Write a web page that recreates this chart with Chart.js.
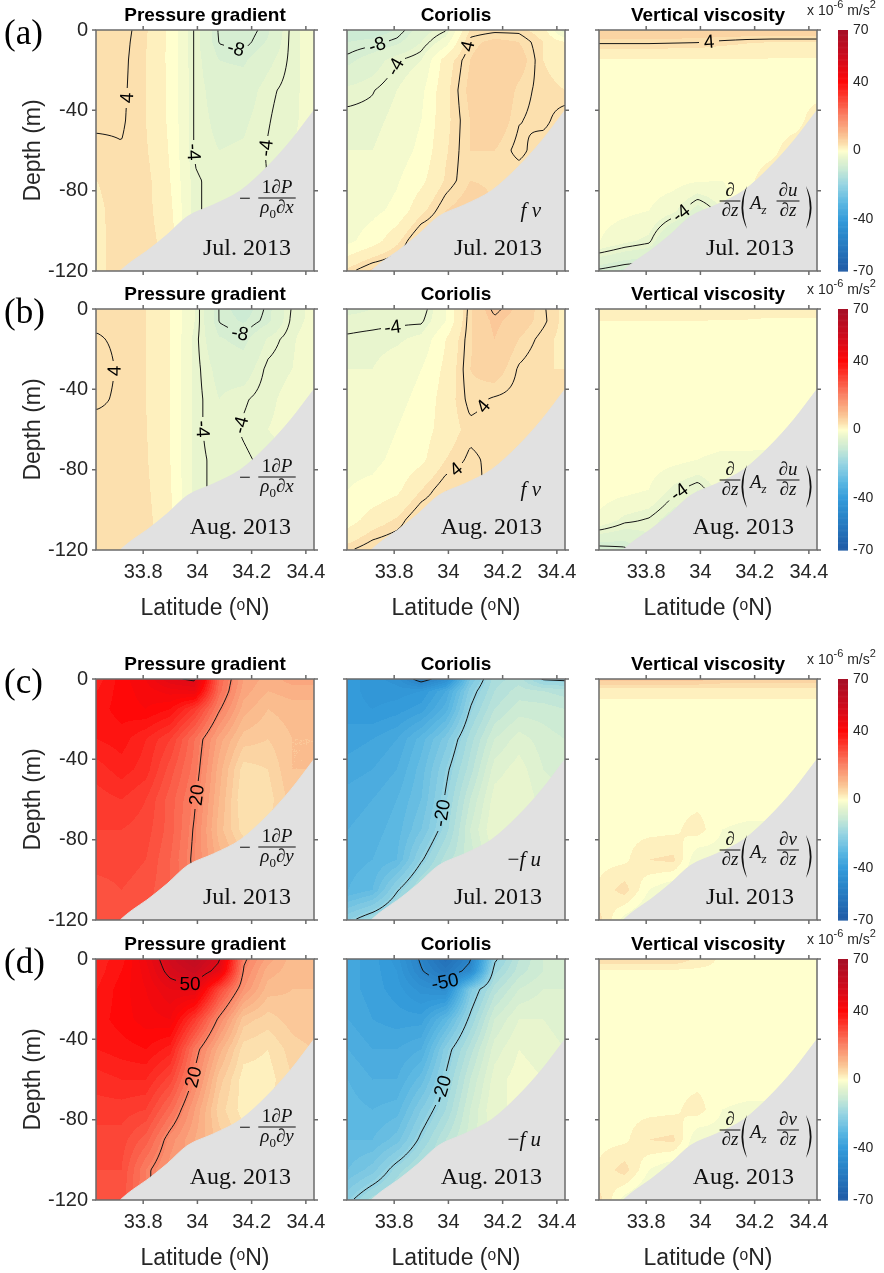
<!DOCTYPE html>
<html>
<head>
<meta charset="utf-8">
<script src="https://cdn.jsdelivr.net/npm/chart.js@4.4.1/dist/chart.umd.min.js"></script>
<style>
  html, body { margin: 0; padding: 0; background: #fff; overflow: hidden; }
  #fig { position: relative; width: 884px; height: 1273px; overflow: hidden; }
  #fig canvas { position: absolute; }
</style>
</head>
<body>
<div id="fig"></div>
<script>
// ===== grid of the sections =====
const latGrid = [33.63, 33.72, 33.81, 33.90, 33.99, 34.08, 34.17, 34.26, 34.35, 34.43];
const depthGrid = [0, -6, -15, -30, -45, -60, -75, -90, -105, -120];
const latTicks = [33.8, 34, 34.2, 34.4];
const depthTicks = [0, -40, -80, -120];
const barTicks = [-70, -40, 0, 40, 70];

// bottom topography
const bathyLat = [33.626, 33.68, 33.715, 33.76, 33.814, 33.888, 33.962, 34.06, 34.159, 34.258, 34.345, 34.43];
const bathyDepth = [-131, -125, -120, -115, -110, -102, -93, -87, -80, -68, -55, -40];

// contour line levels
const levelsSmall = [-8, -4, 4, 8];
const levelsLarge = [-50, -20, 20, 50];

// colour scale (x 10^-6 m/s^2)
const cmapVals = [-70, -55, -40, -30, -20, -10, -4, 0, 4, 10, 20, 30, 40, 55, 70];
const cmapCols = [
  [33, 90, 165], [38, 122, 192], [52, 155, 218], [92, 184, 226], [148, 211, 226],
  [205, 235, 212], [232, 245, 206], [255, 255, 206], [252, 224, 174], [250, 188, 142],
  [250, 132, 102], [252, 70, 55], [255, 8, 8], [205, 12, 30], [165, 15, 38]
];

// ===== momentum terms, rows = depthGrid, cols = latGrid =====
// (a) x-direction, Jul. 2013
const pgxJul = [
  [4.5, 4.6, 3.2, 0.5, -4.2, -8.2, -9, -7.3, -3.5, -2],
  [4.5, 4.5, 3.1, 0.5, -4.2, -8.1, -8.6, -6.8, -3.5, -2],
  [4.4, 4.4, 3.0, 0.5, -4.2, -7, -7.3, -5.5, -3.6, -2],
  [4.5, 4.3, 3.0, 0.6, -4.2, -6, -6, -4.3, -3.5, -2],
  [4.3, 4.2, 3.0, 0.6, -4.2, -5.5, -5.3, -4.1, -3.2, -2.5],
  [3.6, 3.9, 3.2, 0.8, -4.2, -5, -4.8, -3.9, -3, -2.5],
  [3.0, 3.8, 3.6, 1.0, -3.8, -4.5, -4.5, -4, -3, -2.5],
  [2.6, 3.8, 3.6, 1.5, -3.8, -4.5, -4.5, -4, -3, -2.5],
  [2.5, 3.9, 3.8, 2.0, -3.5, -4.5, -4.5, -4, -3, -2.5],
  [2.5, 3.9, 3.8, 2.2, -3.0, -4.5, -4.5, -4, -3, -2.5]
];
const corxJul = [
  [-10, -10, -9, -6, -4.2, 3.2, 3.6, 3.6, 2, -4.5],
  [-9, -8.6, -7.5, -5, -2, 4.5, 5.5, 5, 3, 1],
  [-7.5, -6, -4.1, -3, 2, 5, 6.5, 6, 3, 2],
  [-4.6, -4.1, -3, -1.5, 2.5, 5.5, 7, 4.6, 3.5, 3],
  [-3.5, -3.5, -2.5, -1, 2.5, 5, 6.5, 4.1, 3.5, 5],
  [-3, -3, -2, -0.5, 2.8, 5, 5, 3.5, 5, 5],
  [-2.5, -2.2, -1.2, 0.5, 3.2, 5, 4.8, 5, 5, 5],
  [-2, -1.5, -0.5, 2.5, 5, 6, 5, 5, 5, 5],
  [-1.5, 0, 2.5, 6, 6, 6, 5, 5, 5, 5],
  [3.5, 5.5, 6, 6, 6, 6, 5, 5, 5, 5]
];
const viscxJul = [
  [7, 7, 7, 7, 7, 7, 7, 7, 7, 7],
  [4.3, 4.3, 4.3, 4.2, 4.1, 3.6, 3.2, 3, 3, 3],
  [0.8, 0.8, 0.8, 0.8, 0.8, 0.8, 0.8, 0.8, 0.8, 0.8],
  [0.3, 0.3, 0.3, 0.3, 0.3, 0.3, 0.3, 0.3, 0.3, 0.3],
  [0.3, 0.3, 0.3, 0.3, 0.3, 0.3, 0.3, 0.3, 0.3, 2],
  [0.3, 0.3, 0.2, 0.2, 0.2, 0.2, 0.3, 0.5, 2, 2],
  [0.2, 0.2, 0, -0.2, -0.8, -1, 0.5, 2, 2, 2],
  [-0.2, -0.5, -1, -2.5, -6, -3, 2, 2, 2, 2],
  [-1, -2.5, -3.5, -9, -9, -3, 2, 2, 2, 2],
  [-8.5, -9.5, -10, -10, -9, -3, 2, 2, 2, 2]
];
// (b) x-direction, Aug. 2013
const pgxAug = [
  [3.5, 3.8, 3, 1, -3, -8.1, -10, -7.6, -3.8, -2.5],
  [3.8, 3.8, 3, 1, -3, -8.1, -9.2, -7.4, -3.6, -2.5],
  [4.1, 3.8, 3, 1, -3.5, -6.8, -7.6, -4.8, -3.2, -2],
  [4.5, 3.8, 3, 1, -3.5, -5.6, -6, -3.6, -3, -2],
  [4.2, 3.8, 3, 1, -3.5, -5, -4.2, -3.3, -2.5, -2],
  [3.6, 3.8, 3.1, 1, -3.5, -5, -3.8, -3, -2.5, -2],
  [3.5, 3.9, 3.2, 1, -3.5, -4.5, -4.3, -3.5, -3, -2],
  [3.2, 3.9, 3.4, 1.2, -3.5, -4.5, -4.5, -4, -3, -2],
  [3.1, 3.9, 3.6, 1.5, -3.5, -4.5, -4.5, -4, -3, -2],
  [3, 3.9, 3.7, 2, -3, -4.5, -4.5, -4, -3, -2]
];
const corxAug = [
  [-5.5, -5, -4.8, -5, -1, 4.6, 8.6, 6.5, 4.2, 2.5],
  [-4.5, -4.4, -4.3, -4.3, -1, 4.8, 7.5, 6, 4.3, 2.5],
  [-3.8, -3.6, -3.3, -2.5, 1, 4.8, 7, 5, 3.5, 2.5],
  [-3, -3, -2, -1, 1.5, 5, 6, 3.8, 3, 3],
  [-2.5, -2.5, -1.5, -0.5, 2, 4.5, 3.8, 3.5, 3.5, 3.5],
  [-2, -2, -1, 0, 2, 3.6, 3.5, 3.2, 3.2, 3.2],
  [-1.5, -1.5, -0.5, 0.5, 3, 4.3, 3.6, 3, 3, 3],
  [-1, -0.5, 0.5, 3, 5, 5, 3, 3, 3, 3],
  [0, 2, 3.2, 5.5, 5.5, 5, 3, 3, 3, 3],
  [3.8, 5, 5.5, 5.5, 5.5, 5, 3, 3, 3, 3]
];
const viscxAug = [
  [3, 3, 3, 3, 3, 2.5, 2.5, 2, 2, 2],
  [1, 1, 1, 1, 1, 0.8, 0.8, 0.6, 0.6, 0.6],
  [0.3, 0.3, 0.3, 0.3, 0.3, 0.3, 0.3, 0.3, 0.3, 0.3],
  [0.3, 0.3, 0.3, 0.3, 0.3, 0.3, 0.3, 0.3, 0.3, 0.3],
  [0.3, 0.3, 0.3, 0.3, 0.3, 0.3, 0.3, 0.3, 0.3, 0.3],
  [0.3, 0.3, 0.2, 0.2, 0.2, 0.2, 0.2, 0, -1, -1.5],
  [0.2, 0.2, 0, -0.3, -1, -1.5, -1.5, -1.5, -1.5, -1.5],
  [0, -0.3, -1, -3.5, -5, -2, -1.5, -1.5, -1.5, -1.5],
  [-1.5, -3.5, -4.2, -6, -6, -2, -1.5, -1.5, -1.5, -1.5],
  [-9, -8.5, -6, -6, -6, -2, -1.5, -1.5, -1.5, -1.5]
];
// (c) y-direction, Jul. 2013
const pgyJul = [
  [36, 40, 43, 49, 51, 25, 15, 12, 14, 14],
  [37, 40, 42, 44, 45, 24, 14, 11, 12, 12],
  [38, 40, 41, 39, 32, 20.5, 12, 9, 10, 10],
  [37, 38, 35, 31, 23, 14, 8, 7, 9, 9],
  [34, 36, 34, 28, 22, 12, 4, 5, 9, 9],
  [32, 33, 31, 26, 20.5, 11, 3, 4, 8, 8],
  [31, 31, 30, 26, 19.5, 10, 4, 5, 8, 8],
  [30, 30, 29, 25, 19, 12, 8, 8, 8, 8],
  [28, 29, 28, 25, 20, 14, 10, 10, 10, 10],
  [27, 28, 27, 25, 20, 14, 10, 10, 10, 10]
];
const coryJul = [
  [-40, -42, -44, -53, -46, -25, -16, -14, -20.5, -21],
  [-40, -42, -42, -41, -35, -22, -15, -12, -13, -14],
  [-40, -41, -40, -38, -32, -19.8, -13, -10, -10, -11],
  [-38, -37, -35, -30, -24, -16, -9, -6, -8, -9],
  [-36, -35, -33, -28, -21, -14, -6, -4, -7, -8],
  [-34, -33, -31, -27, -19.5, -11, -4, -3, -6, -6],
  [-33, -32, -30, -25, -18, -9, -3, -3, -5, -5],
  [-32, -31, -29, -20.5, -14, -10, -5, -5, -5, -5],
  [-31, -29, -20.5, -14, -12, -10, -5, -5, -5, -5],
  [-21, -17, -14, -12, -12, -10, -5, -5, -5, -5]
];
const viscyJul = [
  [8, 8, 8, 8, 8, 7, 7, 7, 7, 7],
  [1.5, 1.5, 1.5, 1.5, 1.5, 1.5, 1.5, 1.5, 1.5, 1.5],
  [0.3, 0.3, 0.3, 0.3, 0.3, 0.3, 0.3, 0.3, 0.3, 0.3],
  [0.3, 0.3, 0.3, 0.3, 0.3, 0.3, 0.3, 0.3, 0.3, 0.3],
  [0.3, 0.3, 0.3, 0.3, 0.3, 0.3, 0.3, 0.3, 0.3, 0.3],
  [0.3, 0.3, 0.3, 0.3, 0.3, 0.3, 0.3, 0.3, -1.5, -1.5],
  [0.3, 0.3, 0.3, 0.5, 2, -1, -1.5, -1.5, -1.5, -1.5],
  [0.3, 0.5, 3, 3.5, -3, -2, -1.5, -1.5, -1.5, -1.5],
  [1.5, 4, -1, -3, -3, -2, -1.5, -1.5, -1.5, -1.5],
  [3.5, -2, -4, -3, -3, -2, -1.5, -1.5, -1.5, -1.5]
];
// (d) y-direction, Aug. 2013
const pgyAug = [
  [36, 38, 45, 54, 60, 51, 21, 14, 10, 11],
  [36, 39, 44, 52, 56, 47, 19.5, 12, 10, 10],
  [37, 40, 43, 47, 48, 30, 17, 10, 9, 9],
  [38, 40, 42, 43, 32, 19, 8, 6, 8, 9],
  [37, 38, 39, 36, 22, 12, 4, 3, 6, 7],
  [34, 35, 35, 30, 19, 8, 2, 2, 5, 6],
  [32, 32, 31, 24, 15, 6, 2, 3, 5, 6],
  [30, 30, 26, 18, 13, 8, 4, 4, 5, 6],
  [29, 29, 21, 16, 14, 10, 6, 6, 6, 6],
  [28, 28, 21, 16, 14, 10, 6, 6, 6, 6]
];
const coryAug = [
  [-36, -38, -42, -51, -60, -51, -21, -13, -9, -8],
  [-36, -38, -41, -49.5, -56, -47, -18, -12, -9, -8],
  [-36, -38, -40, -44, -46, -24, -14, -9, -7, -7],
  [-35, -37, -38, -38, -30, -19, -9, -5, -5, -6],
  [-33, -35, -35, -33, -22, -14, -6, -3, -4, -5],
  [-31, -33, -33, -28, -19.5, -11, -4, -2, -3, -4],
  [-30, -31, -30, -23, -17, -9, -3, -3, -3, -4],
  [-29, -29, -26, -19, -13, -8, -4, -4, -4, -4],
  [-27, -24, -18, -14, -12, -8, -4, -4, -4, -4],
  [-21, -16, -14, -12, -12, -8, -4, -4, -4, -4]
];
const viscyAug = [
  [5, 5, 5, 5, 2.5, 0.5, 0.5, 0.5, 0.5, 0.5],
  [0.5, 0.5, 0.5, 0.5, 0.5, 0.5, 0.5, 0.5, 0.5, 0.5],
  [0.3, 0.3, 0.3, 0.3, 0.3, 0.3, 0.3, 0.3, 0.3, 0.3],
  [0.3, 0.3, 0.3, 0.3, 0.3, 0.3, 0.3, 0.3, 0.3, 0.3],
  [0.3, 0.3, 0.3, 0.3, 0.3, 0.3, 0.3, 0.3, 0.3, 0.3],
  [0.3, 0.3, 0.3, 0.3, 0.3, 0.3, 0.3, 0.3, -1.5, -1.5],
  [0.3, 0.3, 0.3, 0.5, 2, -1, -1.5, -1.5, -1.5, -1.5],
  [0.3, 0.5, 3, 3.5, -3, -2, -1.5, -1.5, -1.5, -1.5],
  [1.5, 4, -1, -3, -3, -2, -1.5, -1.5, -1.5, -1.5],
  [3.5, -2, -4, -3, -3, -2, -1.5, -1.5, -1.5, -1.5]
];

// ===== layout =====
const LAT_MIN = 33.626, LAT_MAX = 34.43;
const PLOT_W = 218, PLOT_H = 241, TITLE_SPACE = 30;
const BAND = 2;
const colLefts = [96, 347, 599];
const rowTops = [30, 309, 679, 959];
const colTitles = ["Pressure gradient", "Coriolis", "Vertical viscosity"];
const rows = [
  { tag: "(a)", month: "Jul. 2013", comp: "u", fields: [pgxJul, corxJul, viscxJul], levels: levelsSmall, xLabels: false },
  { tag: "(b)", month: "Aug. 2013", comp: "u", fields: [pgxAug, corxAug, viscxAug], levels: levelsSmall, xLabels: true },
  { tag: "(c)", month: "Jul. 2013", comp: "v", fields: [pgyJul, coryJul, viscyJul], levels: levelsLarge, xLabels: false },
  { tag: "(d)", month: "Aug. 2013", comp: "v", fields: [pgyAug, coryAug, viscyAug], levels: levelsLarge, xLabels: true }
];

const SANS = '"Liberation Sans", Arial, sans-serif';
const SERIF = '"Liberation Serif", "Times New Roman", serif';
Chart.defaults.font.family = SANS;
Chart.defaults.color = "#262626";

// ===== helpers =====
function fieldValue(field, lat, dep) {
  let i = 0;
  while (i < latGrid.length - 2 && lat > latGrid[i + 1]) i++;
  let j = 0;
  while (j < depthGrid.length - 2 && dep < depthGrid[j + 1]) j++;
  let tx = (lat - latGrid[i]) / (latGrid[i + 1] - latGrid[i]);
  let ty = (dep - depthGrid[j]) / (depthGrid[j + 1] - depthGrid[j]);
  tx = Math.min(1, Math.max(0, tx));
  ty = Math.min(1, Math.max(0, ty));
  const a = field[j][i], b = field[j][i + 1], c = field[j + 1][i], d = field[j + 1][i + 1];
  return a * (1 - tx) * (1 - ty) + b * tx * (1 - ty) + c * (1 - tx) * ty + d * tx * ty;
}

function colorAt(v) {
  v = Math.min(70, Math.max(-70, v));
  let k = 0;
  while (k < cmapVals.length - 2 && v > cmapVals[k + 1]) k++;
  const t = (v - cmapVals[k]) / (cmapVals[k + 1] - cmapVals[k]);
  return cmapCols[k].map((c, n) => Math.round(c + (cmapCols[k + 1][n] - c) * t));
}

function bathyAt(lat) {
  if (lat <= bathyLat[0]) return bathyDepth[0];
  for (let k = 1; k < bathyLat.length; k++) {
    if (lat <= bathyLat[k]) {
      const t = (lat - bathyLat[k - 1]) / (bathyLat[k] - bathyLat[k - 1]);
      return bathyDepth[k - 1] + t * (bathyDepth[k] - bathyDepth[k - 1]);
    }
  }
  return bathyDepth[bathyDepth.length - 1];
}

// marching squares: edge pairs per cell case (0 top, 1 right, 2 bottom, 3 left)
const CASES = {
  1: [[3, 2]], 2: [[2, 1]], 3: [[3, 1]], 4: [[0, 1]], 5: [[3, 2], [0, 1]], 6: [[0, 2]], 7: [[3, 0]],
  8: [[3, 0]], 9: [[0, 2]], 10: [[3, 0], [2, 1]], 11: [[0, 1]], 12: [[3, 1]], 13: [[2, 1]], 14: [[3, 2]]
};

function tracePolylines(F, nx, ny, lev, x0, y0, s) {
  const pts = new Map();
  const segs = [];
  const edge = (e, i, j) => {
    let id, ia, ja, ib, jb;
    if (e === 0) { id = (j * nx + i) * 2; ia = i; ja = j; ib = i + 1; jb = j; }
    else if (e === 2) { id = ((j + 1) * nx + i) * 2; ia = i; ja = j + 1; ib = i + 1; jb = j + 1; }
    else if (e === 3) { id = (j * nx + i) * 2 + 1; ia = i; ja = j; ib = i; jb = j + 1; }
    else { id = (j * nx + i + 1) * 2 + 1; ia = i + 1; ja = j; ib = i + 1; jb = j + 1; }
    if (!pts.has(id)) {
      const fa = F[ja * nx + ia], fb = F[jb * nx + ib];
      const t = (lev - fa) / (fb - fa);
      pts.set(id, [x0 + (ia + t * (ib - ia)) * s, y0 + (ja + t * (jb - ja)) * s]);
    }
    return id;
  };
  for (let j = 0; j < ny - 1; j++) {
    for (let i = 0; i < nx - 1; i++) {
      const code = (F[j * nx + i] > lev ? 8 : 0) | (F[j * nx + i + 1] > lev ? 4 : 0) |
        (F[(j + 1) * nx + i + 1] > lev ? 2 : 0) | (F[(j + 1) * nx + i] > lev ? 1 : 0);
      const cs = CASES[code];
      if (!cs) continue;
      for (const [e1, e2] of cs) segs.push([edge(e1, i, j), edge(e2, i, j)]);
    }
  }
  // join segments into polylines
  const adj = new Map();
  segs.forEach((sg, k) => sg.forEach(e => {
    if (!adj.has(e)) adj.set(e, []);
    adj.get(e).push(k);
  }));
  const used = new Array(segs.length).fill(false);
  const out = [];
  const extend = (list) => {
    for (;;) {
      const last = list[list.length - 1];
      const next = (adj.get(last) || []).find(m => !used[m]);
      if (next === undefined) break;
      used[next] = true;
      list.push(segs[next][0] === last ? segs[next][1] : segs[next][0]);
    }
  };
  for (let k = 0; k < segs.length; k++) {
    if (used[k]) continue;
    used[k] = true;
    const ids = [segs[k][0], segs[k][1]];
    extend(ids);
    ids.reverse();
    extend(ids);
    out.push(ids.map(id => pts.get(id)));
  }
  return out;
}

function drawLabelledLine(chart, line, lev) {
  const { ctx, chartArea: a, scales: { x, y } } = chart;
  const cum = [0];
  for (let k = 1; k < line.length; k++) {
    cum.push(cum[k - 1] + Math.hypot(line[k][0] - line[k - 1][0], line[k][1] - line[k - 1][1]));
  }
  const len = cum[cum.length - 1];
  if (len < 3) return;
  const text = String(lev);
  ctx.font = "19px " + SANS;
  const tw = ctx.measureText(text).width;
  let lab = null;
  if (len > 30) {
    let best = -1, bestD = Infinity;
    for (let k = 2; k < line.length - 2; k++) {
      const [px, py] = line[k];
      if (px < a.left + 9 || px > a.right - 9 || py < a.top + 6 || py > a.bottom - 9) continue;
      const bed = y.getPixelForValue(bathyAt(x.getValueForPixel(px)));
      if (py > bed - 12) continue;
      const d = Math.abs(cum[k] - len / 2);
      if (d < bestD) { bestD = d; best = k; }
    }
    if (best >= 0) {
      const p0 = line[Math.max(0, best - 3)], p1 = line[Math.min(line.length - 1, best + 3)];
      let ang = Math.atan2(p1[1] - p0[1], p1[0] - p0[0]);
      if (ang > Math.PI / 2) ang -= Math.PI;
      if (ang < -Math.PI / 2) ang += Math.PI;
      lab = { x: line[best][0], y: line[best][1], ang, r: tw / 2 + 3 };
    }
  }
  ctx.beginPath();
  let pen = false;
  for (const [px, py] of line) {
    if (lab && Math.hypot(px - lab.x, py - lab.y) < lab.r) { pen = false; continue; }
    if (!pen) { ctx.moveTo(px, py); pen = true; } else ctx.lineTo(px, py);
  }
  ctx.strokeStyle = "#151515";
  ctx.lineWidth = 1;
  ctx.stroke();
  if (lab) {
    ctx.save();
    ctx.translate(lab.x, lab.y);
    ctx.rotate(lab.ang);
    ctx.fillStyle = "#000";
    ctx.textAlign = "center";
    ctx.textBaseline = "middle";
    ctx.fillText(text, 0, 1);
    ctx.restore();
  }
}

// filled bands + contour lines, under the bottom topography
function fieldPlugin(field, levels) {
  return {
    id: "field",
    beforeDatasetsDraw(chart) {
      const { ctx, chartArea: a, scales: { x, y } } = chart;
      const L = Math.round(a.left), T = Math.round(a.top);
      const w = Math.round(a.right) - L, h = Math.round(a.bottom) - T;
      const img = ctx.createImageData(w, h);
      const lats = [], deps = [];
      for (let i = 0; i < w; i++) lats.push(x.getValueForPixel(L + i + 0.5));
      for (let j = 0; j < h; j++) deps.push(y.getValueForPixel(T + j + 0.5));
      let k = 0;
      for (let j = 0; j < h; j++) {
        for (let i = 0; i < w; i++) {
          const v = fieldValue(field, lats[i], deps[j]);
          const col = colorAt(Math.round(v / BAND) * BAND);
          img.data[k++] = col[0];
          img.data[k++] = col[1];
          img.data[k++] = col[2];
          img.data[k++] = 255;
        }
      }
      ctx.putImageData(img, L, T);

      const s = 2;
      const nx = Math.floor(w / s) + 1, ny = Math.floor(h / s) + 1;
      const F = new Float64Array(nx * ny);
      for (let j = 0; j < ny; j++) {
        const dep = y.getValueForPixel(T + j * s);
        for (let i = 0; i < nx; i++) F[j * nx + i] = fieldValue(field, x.getValueForPixel(L + i * s), dep);
      }
      ctx.save();
      ctx.beginPath();
      ctx.rect(L, T, w, h);
      ctx.clip();
      for (const lev of levels) {
        for (const line of tracePolylines(F, nx, ny, lev, L, T, s)) drawLabelledLine(chart, line, lev);
      }
      ctx.restore();
    }
  };
}

// ===== math text =====
function partFont(m, size) {
  if (m === "sub") return Math.round(size * 0.68) + "px " + SERIF;
  if (m === "isub") return "italic " + Math.round(size * 0.68) + "px " + SERIF;
  if (m === "i") return "italic " + size + "px " + SERIF;
  return size + "px " + SERIF;
}
function partsWidth(ctx, parts, size) {
  let w = 0;
  for (const [t, m] of parts) { ctx.font = partFont(m, size); w += ctx.measureText(t).width; }
  return w;
}
function drawParts(ctx, parts, x, y, size) {
  ctx.textAlign = "left";
  ctx.textBaseline = "alphabetic";
  for (const [t, m] of parts) {
    ctx.font = partFont(m, size);
    const dy = (m === "sub" || m === "isub") ? size * 0.25 : 0;
    ctx.fillText(t, x, y + dy);
    x += ctx.measureText(t).width;
  }
  return x;
}
function frac(ctx, num, den, cx, barY, size) {
  const wn = partsWidth(ctx, num, size), wd = partsWidth(ctx, den, size);
  const w = Math.max(wn, wd) + 4;
  drawParts(ctx, num, cx - wn / 2, barY - 5, size);
  drawParts(ctx, den, cx - wd / 2, barY + size * 0.8, size);
  ctx.fillRect(cx - w / 2, barY - 0.5, w, 1);
}
// tall thin bracket, dir = 1 for "(" and -1 for ")"
function bracket(ctx, x, top, bot, dir) {
  const mid = (top + bot) / 2;
  ctx.beginPath();
  ctx.moveTo(x, top);
  ctx.quadraticCurveTo(x - dir * 11, mid, x, bot);
  ctx.quadraticCurveTo(x - dir * 7.5, mid, x, top);
  ctx.fill();
}

function drawNotes(ctx, a, r, c) {
  const row = rows[r];
  const R = a.right, B = a.bottom;
  const ax = row.comp === "u" ? "x" : "y";
  ctx.save();
  ctx.fillStyle = "#111";
  if (c === 0) {
    ctx.font = "21px " + SERIF;
    ctx.textAlign = "center";
    ctx.textBaseline = "alphabetic";
    ctx.fillText("\u2212", R - 69, B - 66);
    frac(ctx, [["1", ""], ["\u2202", ""], ["P", "i"]], [["\u03c1", "i"], ["0", "sub"], ["\u2202", ""], [ax, "i"]], R - 37, B - 73, 19);
  } else if (c === 1) {
    const parts = row.comp === "u" ? [["f", "i"], [" v", "i"]] : [["\u2212", ""], ["f", "i"], [" u", "i"]];
    const w = partsWidth(ctx, parts, 21);
    drawParts(ctx, parts, R - 24 - w, B - 54, 21);
  } else {
    frac(ctx, [["\u2202", ""]], [["\u2202", ""], ["z", "i"]], R - 87, B - 70, 19);
    bracket(ctx, R - 70, B - 85, B - 42, 1);
    bracket(ctx, R - 11, B - 85, B - 42, -1);
    drawParts(ctx, [["A", "i"], ["z", "isub"]], R - 67, B - 62, 19);
    frac(ctx, [["\u2202", ""], [row.comp, "i"]], [["\u2202", ""], ["z", "i"]], R - 29, B - 70, 19);
  }
  ctx.font = "24px " + SERIF;
  ctx.textAlign = "right";
  ctx.textBaseline = "alphabetic";
  ctx.fillText(row.month, R - 23, B - 16);
  ctx.restore();
}

// axes box with outward ticks, notes and row tag
function framePlugin(r, c) {
  return {
    id: "frame",
    afterDraw(chart) {
      const { ctx, chartArea: a, scales: { x, y } } = chart;
      drawNotes(ctx, a, r, c);
      ctx.save();
      ctx.strokeStyle = "#6b6b6b";
      ctx.lineWidth = 1.5;
      ctx.strokeRect(a.left, a.top, a.right - a.left, a.bottom - a.top);
      ctx.beginPath();
      for (const v of latTicks) {
        const px = x.getPixelForValue(v);
        ctx.moveTo(px, a.bottom); ctx.lineTo(px, a.bottom + 4);
        ctx.moveTo(px, a.top); ctx.lineTo(px, a.top - 4);
      }
      for (const v of depthTicks) {
        const py = y.getPixelForValue(v);
        ctx.moveTo(a.left, py); ctx.lineTo(a.left - 4, py);
        ctx.moveTo(a.right, py); ctx.lineTo(a.right + 4, py);
      }
      ctx.stroke();
      if (c === 0) {
        ctx.fillStyle = "#000";
        ctx.font = "35px " + SERIF;
        ctx.textAlign = "left";
        ctx.textBaseline = "middle";
        ctx.fillText(rows[r].tag, 4, a.top + 5);
      }
      ctx.restore();
    }
  };
}

function addCanvas(left, top, w, h) {
  const cv = document.createElement("canvas");
  cv.width = w;
  cv.height = h;
  cv.style.left = left + "px";
  cv.style.top = top + "px";
  cv.style.width = w + "px";
  cv.style.height = h + "px";
  document.getElementById("fig").appendChild(cv);
  return cv;
}

// ===== one section panel =====
function makePanel(r, c) {
  const row = rows[r];
  const first = c === 0;
  const padL = first ? 16 : 12;
  const yW = first ? 80 : 0;
  const xH = row.xLabels ? 78 : 0;
  const padR = 22, padB = row.xLabels ? 2 : 8;
  const titleH = 19 * 1.2 + 3;
  const width = padL + yW + PLOT_W + padR;
  const height = TITLE_SPACE + PLOT_H + xH + padB;
  const cv = addCanvas(colLefts[c] - padL - yW, rowTops[r] - TITLE_SPACE, width, height);

  new Chart(cv, {
    type: "scatter",
    data: {
      datasets: [{
        data: bathyLat.map((lat, i) => ({ x: lat, y: bathyDepth[i] })),
        showLine: true,
        fill: "start",
        backgroundColor: "#e1e1e1",
        borderColor: "#e1e1e1",
        borderWidth: 1,
        pointRadius: 0,
        cubicInterpolationMode: "monotone"
      }]
    },
    options: {
      responsive: false,
      animation: false,
      events: [],
      devicePixelRatio: 1,
      layout: { padding: { left: padL, right: padR, top: TITLE_SPACE - titleH, bottom: padB } },
      plugins: {
        legend: { display: false },
        tooltip: { enabled: false },
        title: {
          display: true,
          text: colTitles[c],
          fullSize: false,
          color: "#000",
          font: { size: 19, weight: "bold" },
          padding: { top: 0, bottom: 3 }
        }
      },
      scales: {
        x: {
          type: "linear",
          min: LAT_MIN,
          max: LAT_MAX,
          grid: { display: false, drawTicks: false },
          border: { display: false },
          afterBuildTicks: s => { s.ticks = latTicks.map(v => ({ value: v })); },
          ticks: { display: row.xLabels, padding: 10, font: { size: 20 }, callback: v => String(v) },
          title: { display: row.xLabels, text: "Latitude (\u1d52N)", font: { size: 23 }, padding: { top: 0, bottom: 6 } },
          afterFit: s => { s.height = xH; s.paddingLeft = 0; s.paddingRight = 0; }
        },
        y: {
          type: "linear",
          display: first,
          min: -120,
          max: 0,
          grid: { display: false, drawTicks: false },
          border: { display: false },
          afterBuildTicks: s => { s.ticks = depthTicks.map(v => ({ value: v })); },
          ticks: { padding: 8, font: { size: 20 }, callback: v => String(v) },
          title: { display: true, text: "Depth (m)", font: { size: 23 }, padding: { top: 4, bottom: 4 } },
          afterFit: s => { s.width = yW; s.paddingTop = 0; s.paddingBottom = 0; }
        }
      }
    },
    plugins: [fieldPlugin(row.fields[c], row.levels), framePlugin(r, c)]
  });
}

// ===== colour bar for each row =====
const colorbarPlugin = {
  id: "colorbar",
  afterDraw(chart) {
    const { ctx, chartArea: a, scales: { y } } = chart;
    for (let v = -70; v < 70; v += 0.5) {
      const y0 = y.getPixelForValue(v), y1 = y.getPixelForValue(v + 0.5);
      const col = colorAt(v + 0.25);
      ctx.fillStyle = `rgb(${col[0]},${col[1]},${col[2]})`;
      ctx.fillRect(a.left, y1, a.right - a.left, y0 - y1 + 0.6);
    }
    // unit label
    ctx.save();
    ctx.fillStyle = "#262626";
    ctx.textAlign = "left";
    ctx.textBaseline = "alphabetic";
    const base = a.top - 15;
    let px = 7;
    const put = (t, size, dy) => {
      ctx.font = size + "px " + SANS;
      ctx.fillText(t, px, base + dy);
      px += ctx.measureText(t).width;
    };
    put("x 10", 14, 0);
    put("-6", 11, -7);
    put(" m/s", 14, 0);
    put("2", 11, -7);
    ctx.restore();
  }
};

function makeColorbar(r) {
  const cv = addCanvas(800, rowTops[r] - TITLE_SPACE, 84, TITLE_SPACE + PLOT_H + 8);
  new Chart(cv, {
    type: "scatter",
    data: { datasets: [] },
    options: {
      responsive: false,
      animation: false,
      events: [],
      devicePixelRatio: 1,
      layout: { padding: { left: 38, right: 0, top: TITLE_SPACE, bottom: 8 } },
      plugins: { legend: { display: false }, tooltip: { enabled: false } },
      scales: {
        x: { display: false, min: 0, max: 1 },
        y: {
          position: "right",
          min: -70,
          max: 70,
          grid: { display: false, drawTicks: false },
          border: { display: false },
          afterBuildTicks: s => { s.ticks = barTicks.map(v => ({ value: v })); },
          ticks: { padding: 5, font: { size: 14 }, callback: v => String(v) },
          afterFit: s => { s.width = 36; s.paddingTop = 0; s.paddingBottom = 0; }
        }
      }
    },
    plugins: [colorbarPlugin]
  });
}

rows.forEach((row, r) => {
  for (let c = 0; c < 3; c++) makePanel(r, c);
  makeColorbar(r);
});
</script>
</body>
</html>
